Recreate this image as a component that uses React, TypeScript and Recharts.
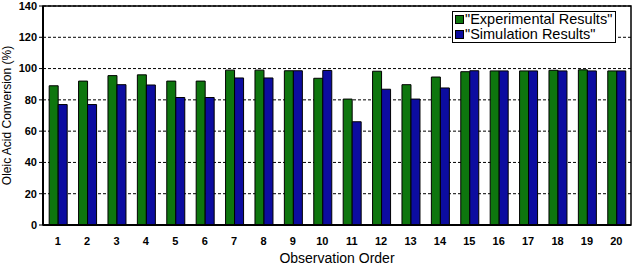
import React from 'react';
import { BarChart, Bar, XAxis, YAxis, CartesianGrid, ReferenceArea } from 'recharts';

const orders = ['1', '2', '3', '4', '5', '6', '7', '8', '9', '10', '11', '12', '13', '14', '15', '16', '17', '18', '19', '20'];
const experimental = [89, 92, 95.5, 96, 92, 92, 99, 99, 98.6, 93.8, 80.5, 98.3, 89.7, 94.6, 98, 98.5, 98.5, 98.9, 99.2, 98.5];
const simulation = [77, 77, 89.7, 89.5, 81.5, 81.5, 94, 94, 98.6, 98.8, 66, 86.8, 80.5, 87.6, 98.6, 98.5, 98.5, 98.5, 98.5, 98.5];
const yTicks = [0, 20, 40, 60, 80, 100, 120, 140];

const data = orders.map((o, i) => ({ order: o, exp: experimental[i], sim: simulation[i] }));

const GREEN = '#0e760e';
const BLUE = '#0c0ca0';

const LegendBox = () => (
  <div
    style={{
      position: 'absolute',
      left: 452,
      top: 11,
      border: '1.5px solid #000',
      background: '#fff',
      padding: '0 3px 0 2px',
      fontFamily: 'Arial, "Liberation Sans", sans-serif',
      fontSize: 14.5,
      lineHeight: '15px',
      color: '#000',
    }}
  >
    {[
      { label: '"Experimental Results"', color: GREEN },
      { label: '"Simulation Results"', color: BLUE },
    ].map((it) => (
      <div key={it.label} style={{ display: 'flex', alignItems: 'center' }}>
        <span
          style={{
            display: 'inline-block',
            width: 7,
            height: 7,
            background: it.color,
            border: '1px solid #000',
            marginRight: 1,
          }}
        />
        {it.label}
      </div>
    ))}
  </div>
);

const App = () => (
  <div style={{ position: 'fixed', left: 0, top: 0, width: 638, height: 266, background: '#fff' }}>
    <BarChart
      width={638}
      height={266}
      data={data}
      margin={{ top: 6, right: 7, left: 0, bottom: 0 }}
      barGap={0}
      barCategoryGap="21%"
      style={{ fontFamily: 'Arial, "Liberation Sans", sans-serif' }}
    >
      <CartesianGrid vertical={false} stroke="#000" strokeDasharray="3 2" strokeWidth={1} />
      <XAxis
        dataKey="order"
        height={41}
        axisLine={{ stroke: '#000', strokeWidth: 2 }}
        tickLine={false}
        tick={{ fill: '#000', fontSize: 11, fontWeight: 'bold' }}
        tickMargin={6}
        label={{ value: 'Observation Order', position: 'insideBottom', offset: 3, fill: '#000', fontSize: 14 }}
      />
      <YAxis
        width={43}
        domain={[0, 140]}
        ticks={yTicks}
        interval={0}
        axisLine={{ stroke: '#000', strokeWidth: 2 }}
        tickLine={{ stroke: '#000' }}
        tickSize={4}
        tick={{ fill: '#000', fontSize: 11, fontWeight: 'bold' }}
        label={{ value: 'Oleic Acid Conversion (%)', angle: -90, position: 'insideLeft', offset: 7, fill: '#000', fontSize: 12, style: { textAnchor: 'middle' } }}
      />
      <ReferenceArea x1="1" x2="20" y1={0} y2={140} fill="none" stroke="#000" strokeWidth={1.5} ifOverflow="visible" />
      <Bar dataKey="exp" fill={GREEN} stroke="#000" strokeWidth={1} isAnimationActive={false} />
      <Bar dataKey="sim" fill={BLUE} stroke="#000" strokeWidth={1} isAnimationActive={false} />
    </BarChart>
    <LegendBox />
  </div>
);

export default App;
